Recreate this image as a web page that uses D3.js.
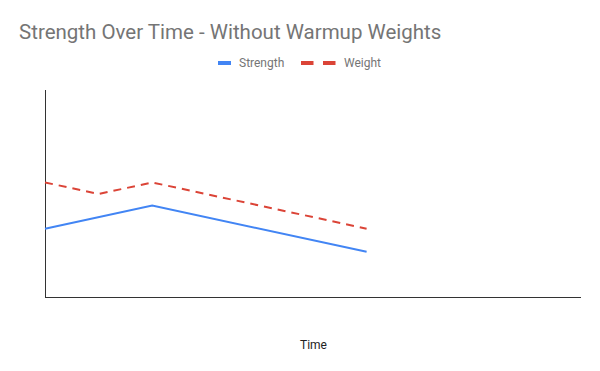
<!DOCTYPE html>
<html>
<head>
<meta charset="utf-8">
<script src="https://cdn.jsdelivr.net/npm/d3@7"></script>
<style>
  body { margin: 0; background: #fff; }
  text { font-family: Roboto, Arial, sans-serif; }
</style>
</head>
<body>
<div id="chart"></div>
<script>
// time steps and series values
const strengthTime = [0, 2, 6];
const strengthValues = [3, 4, 2];
const weightTime = [0, 1, 2, 6];
const weightValues = [5, 4.5, 5, 3];
const seriesNames = ['Strength', 'Weight'];

const width = 600;
const height = 371;
const margin = { top: 90, right: 19, bottom: 73, left: 45 };

const svg = d3.select('#chart')
  .append('svg')
  .attr('width', width)
  .attr('height', height);

const x = d3.scaleLinear()
  .domain([0, 10])
  .range([margin.left, width - margin.right]);

const y = d3.scaleLinear()
  .domain([0, 9])
  .range([height - margin.bottom, margin.top]);

// Title
svg.append('text')
  .attr('x', 19)
  .attr('y', 39)
  .style('font-size', '20.5px')
  .style('fill', '#757575')
  .text('Strength Over Time - Without Warmup Weights');

// Axes (lines only, no ticks)
svg.append('line')
  .attr('x1', x(0) + 0.5).attr('x2', x(0) + 0.5)
  .attr('y1', y(9)).attr('y2', y(0))
  .attr('stroke', '#333').attr('stroke-width', 1);

svg.append('line')
  .attr('x1', x(0)).attr('x2', x(10))
  .attr('y1', y(0) - 0.5).attr('y2', y(0) - 0.5)
  .attr('stroke', '#333').attr('stroke-width', 1);

const line = d3.line()
  .x(d => x(d[0]))
  .y(d => y(d[1]));

svg.append('path')
  .datum(d3.zip(strengthTime, strengthValues))
  .attr('d', line)
  .attr('fill', 'none')
  .attr('stroke', '#4285F4')
  .attr('stroke-width', 2);

svg.append('path')
  .datum(d3.zip(weightTime, weightValues))
  .attr('d', line)
  .attr('fill', 'none')
  .attr('stroke', '#DB4437')
  .attr('stroke-width', 2)
  .attr('stroke-dasharray', '8,6');

// Legend
const legend = svg.append('g');
legend.append('line')
  .attr('x1', 218).attr('x2', 231)
  .attr('y1', 63).attr('y2', 63)
  .attr('stroke', '#4285F4').attr('stroke-width', 4);
legend.append('text')
  .attr('x', 239).attr('y', 67)
  .style('font-size', '12px').style('fill', '#757575')
  .text(seriesNames[0]);
legend.append('line')
  .attr('x1', 301).attr('x2', 336)
  .attr('y1', 63).attr('y2', 63)
  .attr('stroke', '#DB4437').attr('stroke-width', 4)
  .attr('stroke-dasharray', '12.5,9.5');
legend.append('text')
  .attr('x', 344).attr('y', 67)
  .style('font-size', '12px').style('fill', '#757575')
  .text(seriesNames[1]);

// X axis title
svg.append('text')
  .attr('x', 313.5).attr('y', 349)
  .attr('text-anchor', 'middle')
  .style('font-size', '12px')
  .style('fill', '#222')
  .text('Time');
</script>
</body>
</html>
